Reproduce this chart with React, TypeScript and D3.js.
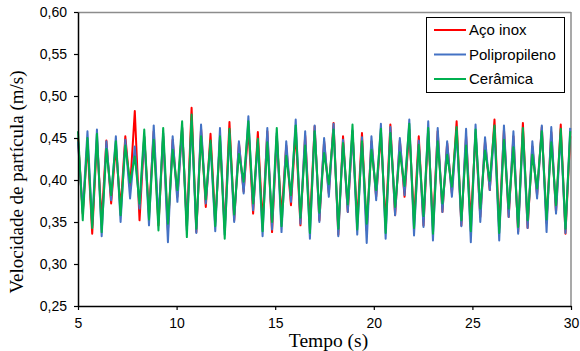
import React, { useEffect, useRef } from 'react';
import * as d3 from 'd3';

// sampling of the measured signal
const T_START = 5;
const T_STEP = 0.24;

const xTicks = [5, 10, 15, 20, 25, 30];
const yTicks = [0.25, 0.3, 0.35, 0.4, 0.45, 0.5, 0.55, 0.6];

const seriesNames = ['Aço inox', 'Polipropileno', 'Cerâmica'];
const seriesColors = ['#ff0000', '#4472c4', '#00b050'];

// velocidade (m/s) - aço inox
const acoInox = [
  0.450, 0.360, 0.444, 0.336, 0.448, 0.352, 0.447, 0.372, 0.440, 0.366,
  0.452, 0.390, 0.482, 0.352, 0.451, 0.360, 0.458, 0.346, 0.452, 0.340,
  0.448, 0.380, 0.462, 0.345, 0.486, 0.338, 0.461, 0.368, 0.455, 0.350,
  0.448, 0.342, 0.469, 0.352, 0.444, 0.386, 0.462, 0.360, 0.457, 0.348,
  0.458, 0.338, 0.452, 0.356, 0.441, 0.370, 0.459, 0.346, 0.453, 0.348,
  0.464, 0.352, 0.446, 0.384, 0.468, 0.335, 0.452, 0.362, 0.458, 0.350,
  0.456, 0.340, 0.446, 0.380, 0.455, 0.347, 0.466, 0.358, 0.447, 0.380,
  0.460, 0.352, 0.452, 0.346, 0.458, 0.344, 0.458, 0.362, 0.444, 0.384,
  0.470, 0.346, 0.452, 0.350, 0.456, 0.356, 0.446, 0.388, 0.472, 0.343,
  0.460, 0.356, 0.452, 0.338, 0.468, 0.343, 0.440, 0.382, 0.463, 0.349,
  0.457, 0.362, 0.466, 0.336, 0.452,
];

// velocidade (m/s) - polipropileno
const polipropileno = [
  0.446, 0.362, 0.458, 0.346, 0.460, 0.333, 0.446, 0.376, 0.452, 0.350,
  0.448, 0.378, 0.440, 0.366, 0.452, 0.346, 0.465, 0.352, 0.456, 0.326,
  0.452, 0.374, 0.463, 0.340, 0.470, 0.337, 0.466, 0.372, 0.443, 0.339,
  0.462, 0.335, 0.455, 0.350, 0.446, 0.384, 0.476, 0.364, 0.445, 0.333,
  0.462, 0.341, 0.456, 0.338, 0.446, 0.374, 0.472, 0.348, 0.458, 0.330,
  0.465, 0.350, 0.450, 0.380, 0.467, 0.333, 0.448, 0.362, 0.459, 0.335,
  0.451, 0.325, 0.452, 0.376, 0.467, 0.330, 0.463, 0.358, 0.450, 0.382,
  0.472, 0.334, 0.447, 0.344, 0.470, 0.328, 0.462, 0.362, 0.446, 0.380,
  0.458, 0.345, 0.461, 0.326, 0.466, 0.350, 0.451, 0.388, 0.460, 0.328,
  0.465, 0.356, 0.458, 0.336, 0.456, 0.343, 0.446, 0.378, 0.465, 0.338,
  0.463, 0.360, 0.455, 0.337, 0.462,
];

// velocidade (m/s) - cerâmica
const ceramica = [
  0.458, 0.352, 0.450, 0.343, 0.455, 0.338, 0.437, 0.382, 0.446, 0.358,
  0.441, 0.397, 0.428, 0.372, 0.460, 0.353, 0.448, 0.340, 0.462, 0.348,
  0.436, 0.388, 0.470, 0.332, 0.478, 0.342, 0.452, 0.377, 0.447, 0.345,
  0.452, 0.330, 0.461, 0.359, 0.431, 0.398, 0.470, 0.372, 0.449, 0.339,
  0.445, 0.350, 0.462, 0.345, 0.429, 0.382, 0.465, 0.355, 0.441, 0.337,
  0.458, 0.361, 0.432, 0.395, 0.460, 0.342, 0.444, 0.371, 0.466, 0.341,
  0.446, 0.348, 0.436, 0.388, 0.461, 0.337, 0.456, 0.368, 0.433, 0.393,
  0.467, 0.343, 0.442, 0.357, 0.462, 0.336, 0.446, 0.372, 0.430, 0.392,
  0.463, 0.352, 0.441, 0.339, 0.460, 0.366, 0.435, 0.399, 0.465, 0.337,
  0.448, 0.366, 0.439, 0.344, 0.462, 0.352, 0.430, 0.390, 0.458, 0.353,
  0.445, 0.370, 0.461, 0.342, 0.458,
];

const allSeries = [acoInox, polipropileno, ceramica];

export default function App() {
  const ref = useRef<SVGSVGElement | null>(null);

  useEffect(() => {
    const W = 580, H = 351;
    // margins measured against the page (svg sits at 0,0)
    const margin = { top: 12, right: 9, bottom: 45, left: 78 };
    const width = W - margin.left - margin.right;
    const height = H - margin.top - margin.bottom;

    const root = d3.select(ref.current);
    root.selectAll('*').remove();

    const svg = root.append('g')
      .attr('transform', 'translate(' + margin.left + ',' + margin.top + ')');

    var x = d3.scaleLinear().domain([5, 30]).range([0, width]);
    var y = d3.scaleLinear().domain([0.25, 0.6]).range([height, 0]);

    // plot frame, top/right in grey
    svg.append('line')
      .attr('x1', 0).attr('x2', width).attr('y1', 0.5).attr('y2', 0.5)
      .attr('stroke', '#8c8c8c').attr('stroke-width', 1.5);
    svg.append('line')
      .attr('x1', width).attr('x2', width).attr('y1', 0).attr('y2', height)
      .attr('stroke', '#8c8c8c').attr('stroke-width', 1.5);

    // series lines
    var line = d3.line<number>()
      .x((d, i) => x(T_START + i * T_STEP))
      .y((d) => y(d));

    allSeries.forEach((s, k) => {
      svg.append('path')
        .datum(s)
        .attr('fill', 'none')
        .attr('stroke', seriesColors[k])
        .attr('stroke-width', 2)
        .attr('stroke-linejoin', 'round')
        .attr('d', line);
    });

    // axes
    var xAxis = svg.append('g')
      .attr('transform', 'translate(0,' + height + ')')
      .call(d3.axisBottom(x).tickValues(xTicks).tickSize(4).tickSizeOuter(0).tickFormat((d) => String(d)));
    var yAxis = svg.append('g')
      .call(d3.axisLeft(y).tickValues(yTicks).tickSize(4).tickSizeOuter(0)
        .tickFormat((d) => d3.format('.2f')(d as number).replace('.', ',')));

    [xAxis, yAxis].forEach((a) => {
      a.select('.domain').attr('stroke', '#000').attr('stroke-width', 1.5);
      a.selectAll('.tick line').attr('stroke', '#000').attr('stroke-width', 1.2);
      a.selectAll('.tick text')
        .attr('fill', '#000')
        .style('font-family', 'Liberation Sans, Arial, sans-serif')
        .style('font-size', '14px');
    });
    xAxis.selectAll('.tick text').attr('dy', '0.95em').attr('y', 9);
    yAxis.selectAll('.tick text').attr('x', -11);

    // axis titles
    svg.append('text')
      .attr('x', width / 2 + 4)
      .attr('y', height + 41)
      .attr('text-anchor', 'middle')
      .style('font-family', 'Liberation Serif, Times New Roman, serif')
      .style('font-size', '19.5px')
      .text('Tempo (s)');

    svg.append('text')
      .attr('transform', 'translate(' + (-55) + ',' + (height / 2 + 23) + ') rotate(-90)')
      .attr('text-anchor', 'middle')
      .style('font-family', 'Liberation Serif, Times New Roman, serif')
      .style('font-size', '19px')
      .text('Velocidade de partícula (m/s)');

    // legend
    const lg = root.append('g').attr('transform', 'translate(426,17)');
    lg.append('rect')
      .attr('x', 0.5).attr('y', 0.5).attr('width', 138).attr('height', 75)
      .attr('fill', '#fff').attr('stroke', '#000').attr('stroke-width', 1);
    seriesNames.forEach((name, k) => {
      const yy = 13 + k * 24.5;
      lg.append('line')
        .attr('x1', 8).attr('x2', 40).attr('y1', yy).attr('y2', yy)
        .attr('stroke', seriesColors[k]).attr('stroke-width', 2);
      lg.append('text')
        .attr('x', 43).attr('y', yy).attr('dy', '0.35em')
        .style('font-family', 'Liberation Sans, Arial, sans-serif')
        .style('font-size', '15px')
        .text(name);
    });
  }, []);

  return (
    <svg ref={ref} width={580} height={351}
      style={{ position: 'absolute', left: 0, top: 0, background: '#fff' }} />
  );
}
